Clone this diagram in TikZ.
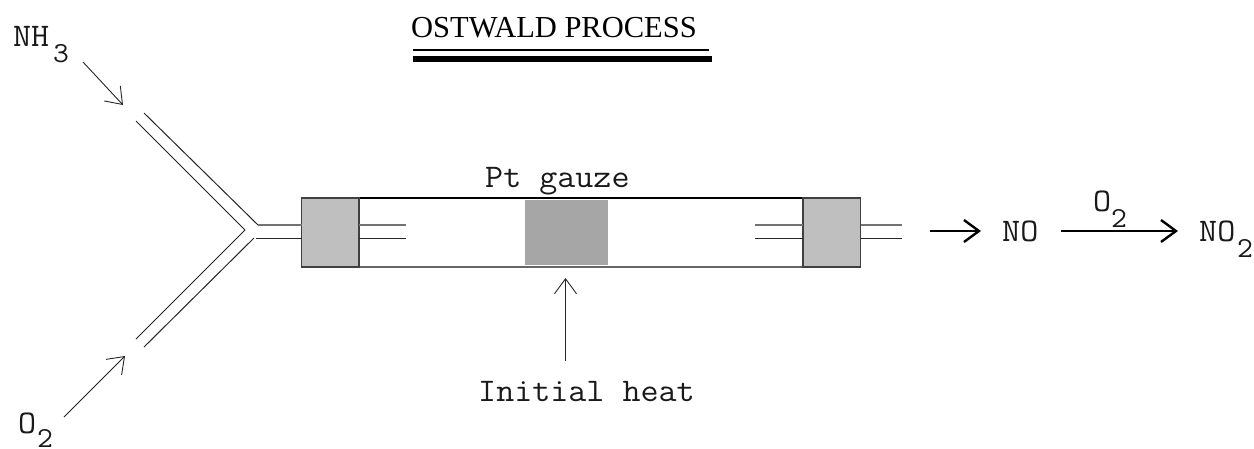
\documentclass[tikz,border=0pt]{standalone}
\usepackage{fontspec}
\setmainfont{Liberation Serif}
\setmonofont[FakeStretch=1.062]{Latin Modern Mono}
\usetikzlibrary{arrows.meta}
\tikzset{
  lab/.style={inner sep=0pt,font=\ttfamily\fontsize{33}{33}\selectfont,text=black!90,anchor=base west},
  sublab/.style={inner sep=0pt,font=\ttfamily\fontsize{29}{29}\selectfont,text=black!90,anchor=base west},
  pipe/.style={line width=1pt,black!85},
  gpipe/.style={line width=1.4pt,black!55},
  thinarrow/.style={line width=0.9pt,black!85,-{Straight Barb[length=15pt,width=22pt,line width=0.9pt]}},
  thickarrow/.style={line width=2.4pt,black,-{Straight Barb[length=15pt,width=22pt,line width=2.4pt]}},
  plug/.style={draw=black!75,line width=1.3pt,fill=black!25,minimum width=57.5pt,minimum height=69pt,inner sep=0pt,outer sep=0pt,anchor=north west},
}
\begin{document}
\begin{tikzpicture}[x=1pt,y=-1pt]
\useasboundingbox (0,0) rectangle (1254,448);
% title
\node[inner sep=0pt,anchor=base west,font=\fontsize{30.5}{30.5}\selectfont] (title) at (411,37.5) {OSTWALD PROCESS};
\coordinate (u1a) at (413,50); \coordinate (u1b) at (709,50);
\coordinate (u2a) at (413,59); \coordinate (u2b) at (712,59);
\draw[line width=2.4pt] (u1a) -- (u1b);
\draw[line width=5.4pt] (u2a) -- (u2b);
% tube
\coordinate (tl) at (301.5,198); \coordinate (br) at (861,267);
\draw[line width=1.2pt,black] (tl) -- (861,198);
\draw[line width=1.4pt,black!60] (301.5,267) -- (br);
\node[plug] (lplug) at (tl) {};
\node[plug] (rplug) at (803,198) {};
\node[inner sep=0pt,outer sep=0pt,fill=black!35,minimum width=83pt,minimum height=65pt,anchor=north west] (gauze) at (525,200) {};
% Y pipes
\coordinate (a1) at (144,113); \coordinate (a2) at (258,225);
\coordinate (b1) at (136,121); \coordinate (b2) at (245,230);
\coordinate (c1) at (136,339);
\coordinate (d1) at (144,347); \coordinate (d2) at (254,238);
\draw[pipe] (a1) -- (a2);
\draw[pipe,line join=miter] (b1) -- (b2) -- (c1);
\draw[pipe] (d1) -- (d2);
\draw[gpipe] (a2) -- (lplug.west |- a2);
\draw[pipe] (256,238.5) coordinate (d3) -- (lplug.west |- d3);
% inner stubs
\coordinate (s1) at (406,225); \coordinate (s2) at (406,238.5);
\coordinate (s3) at (755,225); \coordinate (s4) at (755,238.5);
\coordinate (s5) at (902,225); \coordinate (s6) at (902,238.5);
\draw[gpipe] (lplug.east |- s1) -- (s1);
\draw[pipe] (lplug.east |- s2) -- (s2);
\draw[gpipe] (s3) -- (rplug.west |- s3);
\draw[pipe] (s4) -- (rplug.west |- s4);
\draw[gpipe] (rplug.east |- s5) -- (s5);
\draw[pipe] (rplug.east |- s6) -- (s6);
% arrows
\coordinate (n1) at (83,62); \coordinate (n2) at (123,105);
\coordinate (o1) at (64,417); \coordinate (o2) at (125,356);
\coordinate (h1) at (565.5,361); \coordinate (h2) at (565.5,278);
\draw[thinarrow] (n1) -- (n2);
\draw[thinarrow] (o1) -- (o2);
\draw[thinarrow] (h1) -- (h2);
\coordinate (r1) at (930,231); \coordinate (r2) at (981,231);
\coordinate (r3) at (1061,231); \coordinate (r4) at (1178,231);
\draw[thickarrow] (r1) -- (r2);
\draw[thickarrow] (r3) -- (r4);
% labels
\node[lab] (nh) at (13,46) {NH}; \node[sublab] (nh3) at (53,62) {3};
\node[lab] (ox) at (18,433) {O}; \node[sublab] (ox2) at (37,447.5) {2};
\node[lab] (pt) at (485,187) {Pt gauze};
\node[lab] (heat) at (478,401) {Initial heat};
\node[lab] (no) at (1002,241) {NO};
\node[lab] (ox3) at (1093,211.5) {O}; \node[sublab] (ox4) at (1111,227) {2};
\node[lab] (no2) at (1199,241) {NO}; \node[sublab] (no22) at (1237,257) {2};
\end{tikzpicture}
\end{document}
